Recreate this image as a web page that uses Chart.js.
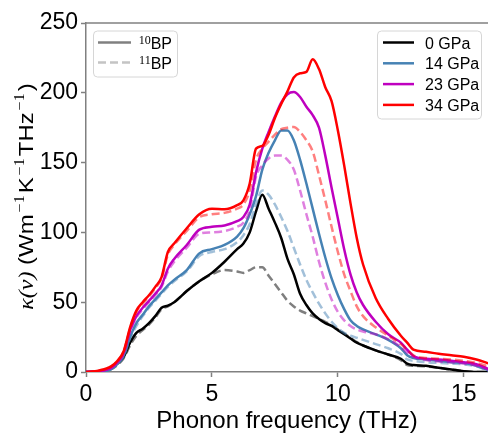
<!DOCTYPE html>
<html>
<head>
<meta charset="utf-8">
<script src="https://cdn.jsdelivr.net/npm/chart.js@4.4.1/dist/chart.umd.min.js"></script>
<style>
  html, body { margin: 0; padding: 0; background: #fff; }
  #box { width: 488px; height: 433px; }
</style>
</head>
<body>
<div id="box"><canvas id="myChart"></canvas></div>
<script>
// Phonon frequency (THz)
const freq = [0, 0.5, 1, 1.25, 1.5, 1.75, 2, 2.25, 2.5, 2.75, 3, 3.25, 3.5, 4, 4.5, 5, 5.5, 6, 6.25, 6.5, 6.75, 7, 7.25, 7.5, 7.75, 8, 8.25, 8.5, 8.75, 9, 9.25, 9.5, 9.75, 10, 10.25, 10.5, 10.75, 11, 11.5, 12, 12.5, 12.75, 13, 13.5, 14, 14.5, 15, 15.5, 16]

// kappa(nu) - solid = 10BP, dashed = 11BP
const gpa0_10 = [0, 0, 2.5, 6, 11, 21, 28, 31, 35, 40, 46, 47.5, 50, 58, 65, 71, 79, 88, 92, 100, 115, 127, 117, 107, 96, 81, 70, 56, 48, 42, 38, 35, 33, 30, 27, 24, 21, 19, 15.5, 12.5, 9.5, 6, 5, 4.5, 3, 1.8, 0.6, 0, 0]
const gpa0_11 = [0, 0, 2, 5, 10, 19, 26, 30, 34, 39, 45, 47, 50, 58, 65, 70, 73, 72, 71, 73, 75, 75, 69, 63, 57, 51, 47, 44, 42, 40, 38, 36, 33.5, 30.5, 27.5, 24.5, 21.5, 19, 15.5, 12.5, 8.5, 5, 4.5, 4, 3, 1.8, 0.6, 0, 0]
const gpa14_10 = [0, 0, 2, 6, 12, 25, 35, 41, 47, 52, 57, 62, 66, 73, 85, 88, 91, 97, 103, 113, 126, 145, 157, 166, 173, 173, 166, 152, 135, 117, 99, 82, 67, 55, 45, 37, 33, 30.5, 27, 23, 17, 12, 10, 9, 8, 7, 6.5, 4.5, 1]
const gpa14_11 = [0, 0, 2, 5.5, 11, 24, 33, 40, 46, 51, 56, 61, 65, 72, 83, 86, 88, 93, 98, 106, 120, 130, 127, 120, 111, 101, 89, 77, 66, 57, 49, 42, 36, 31.5, 28, 26, 24.5, 23, 20, 17, 13, 9, 8, 7, 6.5, 6, 5.5, 4, 0.5]
const gpa23_10 = [0, 0.5, 3, 7, 14, 30, 40, 46, 51, 56, 62, 74, 81, 91, 102, 104, 105, 108, 111, 120, 143, 160, 172, 183, 193, 199, 200.5, 197, 190, 184, 175, 155, 132, 110, 88, 70, 57, 48, 36, 27, 21, 16, 11.5, 9.5, 9, 8, 7, 5.5, 2]
const gpa23_11 = [0, 0.5, 3, 7, 13, 29, 39, 45, 50, 55, 61, 72, 79, 89, 99, 100, 101, 104, 107, 116, 140, 148, 153, 155, 155, 152, 145, 130, 113, 97, 79, 64, 52, 43, 37, 33, 30.5, 29, 27, 23.5, 18, 14, 11, 8.5, 7.5, 7, 6, 4.5, 1.5]
const gpa34_10 = [0, 1, 4, 8, 15, 32, 44, 50, 55, 61, 68, 86, 92, 103, 113, 117, 116.5, 119.5, 123, 135, 160, 162, 170, 182, 192, 201, 211, 214, 215, 224, 217, 204, 194, 173, 148, 121, 96, 77, 53, 38, 26, 21, 16, 14.5, 13, 12, 11, 9, 6]
const gpa34_11 = [0, 1, 4, 8, 15, 31, 43, 49, 54, 60, 67, 84, 91, 101, 111, 113, 114, 117, 120, 130, 152, 160, 165, 170, 174, 175, 175.5, 172, 166, 158, 141, 123, 104, 86, 70, 58, 47, 40, 32, 26, 20, 16, 12, 10, 9.5, 9, 8, 6.5, 4]

const xTicks = [0, 5, 10, 15]
const yTicks = [0, 50, 100, 150, 200, 250]
const pressureLabels = ["0 GPa", "14 GPa", "23 GPa", "34 GPa"]
const pressureColors = ["#000000", "#4682b4", "#bf00bf", "#ff0000"]
const fadedColors = ["rgba(0,0,0,0.5)", "rgba(70,130,180,0.5)", "rgba(191,0,191,0.5)", "rgba(255,0,0,0.5)"]
const isotopeLabels = ["10", "11"]

const SANS = '"Liberation Sans", Arial, sans-serif'
const SERIF = '"Liberation Serif", "DejaVu Serif", serif'

function pts(vals) {
    return freq.map((f, i) => ({ x: f, y: vals[i] }))
}

const solids = [gpa0_10, gpa14_10, gpa23_10, gpa34_10]
const dashed = [gpa0_11, gpa14_11, gpa23_11, gpa34_11]

let datasets = []
for (let i = 0; i < 4; i++) {
    datasets.push({ label: pressureLabels[i] + " 10BP", data: pts(solids[i]), borderColor: pressureColors[i], borderWidth: 2.5 })
    datasets.push({ label: pressureLabels[i] + " 11BP", data: pts(dashed[i]), borderColor: fadedColors[i], borderWidth: 2.5, borderDash: [8, 4] })
}
// later datasets on top, like matplotlib
datasets.forEach((d, i) => { d.order = -i })

// legends, top spine and y title drawn by hand
const extras = {
    id: 'extras',
    afterDraw(chart) {
        const ctx = chart.ctx
        const area = chart.chartArea
        ctx.save()

        // top spine
        ctx.strokeStyle = '#808080'
        ctx.lineWidth = 1.5
        ctx.beginPath()
        ctx.moveTo(area.left, area.top)
        ctx.lineTo(area.right, area.top)
        ctx.stroke()

        function frame(x, y, w, h) {
            ctx.beginPath()
            ctx.roundRect(x, y, w, h, 4)
            ctx.fillStyle = 'rgba(255,255,255,0.8)'
            ctx.fill()
            ctx.strokeStyle = '#d6d6d6'
            ctx.lineWidth = 1
            ctx.stroke()
        }
        function sample(x1, x2, y, color, dash) {
            ctx.beginPath()
            ctx.setLineDash(dash)
            ctx.strokeStyle = color
            ctx.lineWidth = 2.5
            ctx.moveTo(x1, y)
            ctx.lineTo(x2, y)
            ctx.stroke()
            ctx.setLineDash([])
        }

        // isotope legend
        frame(93.5, 31, 84, 46)
        const isoY = [42.5, 62.5]
        sample(98, 131, isoY[0], '#808080', [])
        sample(98, 131, isoY[1], '#c4c4c4', [8, 4])
        ctx.textBaseline = 'alphabetic'
        for (let i = 0; i < 2; i++) {
            ctx.font = '16px ' + SANS
            const bpW = ctx.measureText('BP').width
            ctx.fillStyle = '#000'
            ctx.fillText('BP', 172 - bpW, isoY[i] + 6)
            ctx.font = '12px ' + SERIF
            const supW = ctx.measureText(isotopeLabels[i]).width
            ctx.fillText(isotopeLabels[i], 172 - bpW - supW, isoY[i] + 1)
        }

        // pressure legend
        frame(377.5, 31, 104, 88)
        ctx.font = '16px ' + SANS
        for (let i = 0; i < 4; i++) {
            const y = 42.5 + i * 20.8
            sample(383, 414, y, pressureColors[i], [])
            ctx.fillStyle = '#000'
            ctx.fillText(pressureLabels[i], 425, y + 6)
        }

        // y axis title: kappa(nu) (Wm^-1 K^-1 THz^-1)
        const big = 24
        const sup = 16
        const parts = [
            ['κ(ν)', 'italic ' + big + 'px ' + SERIF, 0, 0],
            [' (Wm', big + 'px ' + SANS, 0, 0],
            ['−1', sup + 'px ' + SERIF, -10, 2],
            ['K', big + 'px ' + SANS, 0, 0],
            ['−1', sup + 'px ' + SERIF, -10, 2],
            ['THz', big + 'px ' + SANS, 0, 0],
            ['−1', sup + 'px ' + SERIF, -10, 2],
            [')', big + 'px ' + SANS, 0, 0]
        ]
        let total = 0
        parts.forEach(p => { ctx.font = p[1]; total += ctx.measureText(p[0]).width + 2 * p[3] })
        ctx.translate(25.5, (area.top + area.bottom) / 2 - 1)
        ctx.rotate(-Math.PI / 2)
        ctx.scale(1, 0.88)
        let pos = -total / 2
        ctx.fillStyle = '#000'
        parts.forEach(p => {
            ctx.font = p[1]
            pos += p[3]
            ctx.fillText(p[0], pos, big * 0.36 + p[2])
            pos += ctx.measureText(p[0]).width + p[3]
        })
        ctx.restore()
    }
}

const ChartElement = document.getElementById('myChart')
const chart = new Chart(ChartElement, {
    type: 'line',
    data: { datasets: datasets },
    options: {
        responsive: true,
        maintainAspectRatio: false,
        animation: false,
        layout: { padding: { top: 23, right: 0, left: 0, bottom: 0 } },
        elements: {
            point: { radius: 0 },
            line: { cubicInterpolationMode: 'monotone', borderCapStyle: 'butt' }
        },
        plugins: { legend: { display: false }, tooltip: { enabled: false } },
        scales: {
            x: {
                type: 'linear',
                min: 0,
                max: 15.96,
                afterFit: s => { s.height = 61 },
                afterBuildTicks: s => { s.ticks = xTicks.map(v => ({ value: v })) },
                ticks: { color: '#000', font: { size: 23, family: SANS }, padding: 4, maxRotation: 0 },
                grid: { drawOnChartArea: false, color: '#808080', tickLength: 5, tickWidth: 1.5 },
                border: { color: '#808080', width: 1.5 },
                title: { display: true, text: 'Phonon frequency (THz)', color: '#000', font: { size: 24, family: SANS, lineHeight: 1 }, padding: 0 }
            },
            y: {
                min: 0,
                max: 250,
                afterFit: s => { s.width = 86 },
                afterBuildTicks: s => { s.ticks = yTicks.map(v => ({ value: v })) },
                ticks: { color: '#000', font: { size: 23, family: SANS }, padding: 3 },
                grid: { drawOnChartArea: false, color: '#808080', tickLength: 5, tickWidth: 1.5 },
                border: { color: '#808080', width: 1.5 }
            }
        }
    },
    plugins: [extras]
})
</script>
</body>
</html>
